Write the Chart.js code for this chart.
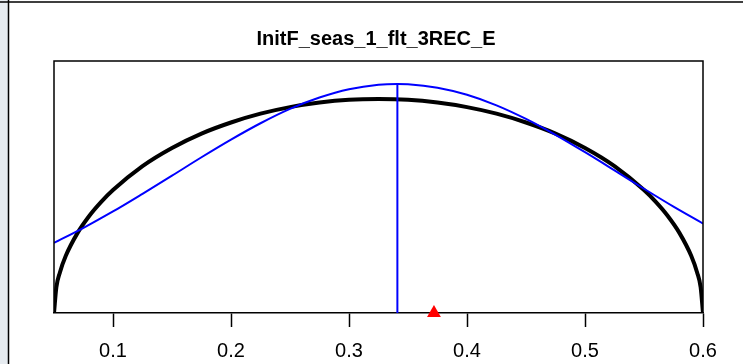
<!DOCTYPE html>
<html>
<head>
<meta charset="utf-8">
<script src="https://cdn.jsdelivr.net/npm/chart.js@4/dist/chart.umd.min.js"></script>
<style>
  html, body { margin: 0; padding: 0; background: #ffffff; }
  #wrap { width: 743px; height: 364px; position: relative; }
</style>
</head>
<body>
<div id="wrap"><canvas id="density"></canvas></div>
<script>
// values (y in plot-height units, bottom = 0, top = 1)
var chartTitle = "InitF_seas_1_flt_3REC_E";

var priorX = [0.05, 0.052, 0.055, 0.06, 0.07, 0.08, 0.09, 0.10, 0.125, 0.15, 0.175, 0.20, 0.225, 0.25, 0.275, 0.30, 0.325,
	0.35, 0.375, 0.40, 0.425, 0.45, 0.475, 0.50, 0.525, 0.55, 0.56, 0.57, 0.58, 0.59, 0.595, 0.598, 0.60];
var priorY = [0, 0.102, 0.161, 0.227, 0.318, 0.386, 0.441, 0.488, 0.583, 0.655, 0.712, 0.756, 0.791, 0.817, 0.835, 0.846, 0.849,
	0.846, 0.835, 0.817, 0.791, 0.756, 0.712, 0.655, 0.583, 0.488, 0.441, 0.386, 0.318, 0.227, 0.161, 0.102, 0];

var postX = [0.05, 0.075, 0.10, 0.125, 0.15, 0.175, 0.20, 0.225, 0.25, 0.275, 0.30, 0.325, 0.341, 0.35, 0.375, 0.40,
	0.425, 0.45, 0.475, 0.50, 0.525, 0.55, 0.575, 0.60];
var postY = [0.278, 0.338, 0.403, 0.473, 0.545, 0.618, 0.688, 0.753, 0.810, 0.855, 0.888, 0.906, 0.909, 0.908, 0.894, 0.866,
	0.824, 0.770, 0.707, 0.638, 0.566, 0.493, 0.422, 0.355];

var estimateX = 0.341;
var estimateY = 0.909;
var initX = 0.372;

var tickValues = [0.1, 0.2, 0.3, 0.4, 0.5, 0.6];

function toPoints(xs, ys) {
	var pts = [];
	for (var i = 0; i < xs.length; i++) {
		pts.push({ x: xs[i], y: ys[i] });
	}
	return pts;
}

// frame around plot, title and the bits of neighbouring panels
var framePlugin = {
	id: "frame",
	beforeDraw: function (chart) {
		var ctx = chart.ctx;
		ctx.save();
		ctx.fillStyle = "#e6ebf0";
		ctx.fillRect(0, 0, 8, chart.height);
		ctx.strokeStyle = "#000";
		ctx.lineWidth = 1.5;
		ctx.beginPath();
		ctx.moveTo(8.5, 0);
		ctx.lineTo(8.5, chart.height);
		ctx.moveTo(0, 2);
		ctx.lineTo(chart.width, 2);
		ctx.stroke();
		ctx.restore();
	},
	afterDraw: function (chart) {
		var a = chart.chartArea;
		var ctx = chart.ctx;
		ctx.save();
		ctx.strokeStyle = "#000";
		ctx.lineWidth = 1.5;
		ctx.beginPath();
		ctx.moveTo(a.left, a.bottom);
		ctx.lineTo(a.left, a.top);
		ctx.lineTo(a.right, a.top);
		ctx.lineTo(a.right, a.bottom);
		ctx.stroke();
		ctx.fillStyle = "#000";
		ctx.font = "bold 20px 'Liberation Sans', Arial, sans-serif";
		ctx.textAlign = "center";
		ctx.textBaseline = "alphabetic";
		ctx.fillText(chartTitle, 376, 45);
		ctx.restore();
	},
};

var config = {
	type: "line",
	data: {
		datasets: [
			{
				label: "init",
				type: "scatter",
				data: [{ x: initX, y: 0 }],
				pointStyle: "triangle",
				pointRadius: 8,
				pointHoverRadius: 8,
				backgroundColor: "#ff0000",
				borderColor: "#ff0000",
				borderWidth: 0,
				clip: false,
				order: 0,
			},
			{
				label: "estimate",
				data: [{ x: estimateX, y: 0 }, { x: estimateX, y: estimateY }],
				borderColor: "#0000ff",
				borderWidth: 2,
				pointRadius: 0,
				order: 1,
			},
			{
				label: "posterior",
				data: toPoints(postX, postY),
				borderColor: "#0000ff",
				borderWidth: 2,
				pointRadius: 0,
				cubicInterpolationMode: "monotone",
				order: 1,
			},
			{
				label: "prior",
				data: toPoints(priorX, priorY),
				borderColor: "#000000",
				borderWidth: 4,
				pointRadius: 0,
				cubicInterpolationMode: "monotone",
				order: 2,
			},
		],
	},
	plugins: [framePlugin],
	options: {
		responsive: true,
		maintainAspectRatio: false,
		animation: false,
		events: [],
		layout: {
			padding: { left: 54, right: 40, top: 61, bottom: 0 },
		},
		plugins: {
			legend: { display: false },
			tooltip: { enabled: false },
			title: { display: false },
		},
		scales: {
			x: {
				type: "linear",
				min: 0.05,
				max: 0.6,
				afterBuildTicks: function (scale) {
					scale.ticks = tickValues.map(function (v) {
						return { value: v };
					});
				},
				afterFit: function (scale) {
					scale.height = 51;
				},
				border: { display: true, color: "#000", width: 1.5 },
				grid: {
					drawOnChartArea: false,
					drawTicks: true,
					tickLength: 14,
					tickWidth: 1.5,
					tickColor: "#000",
				},
				ticks: {
					color: "#000",
					padding: 12,
					maxRotation: 0,
					autoSkip: false,
					font: { family: "'Liberation Sans', Arial, sans-serif", size: 20 },
					callback: function (v) {
						return v.toFixed(1);
					},
				},
			},
			y: {
				display: false,
				min: 0,
				max: 1,
			},
		},
	},
};

window.densityChart = new Chart(document.getElementById("density"), config);
</script>
</body>
</html>
